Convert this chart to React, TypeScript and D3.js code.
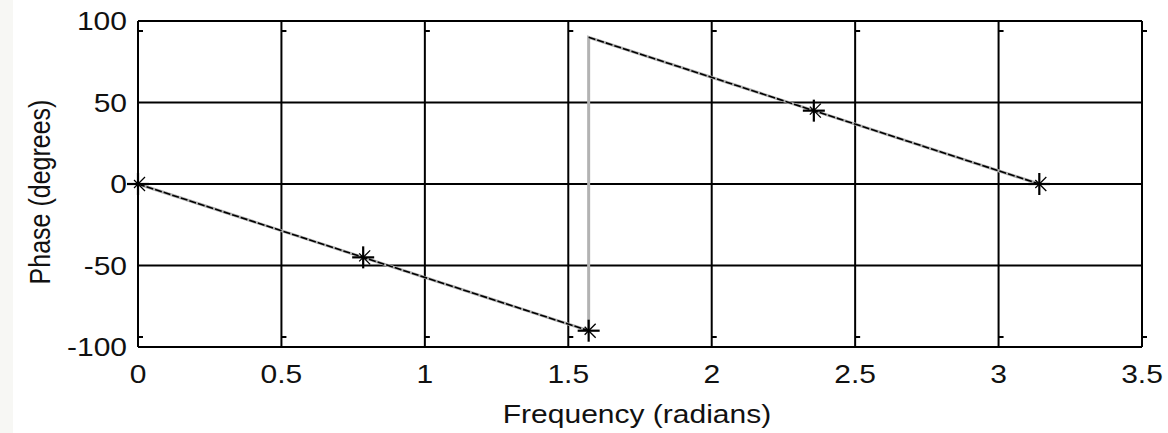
import React from 'react';
import * as d3 from 'd3';

// phase response samples (frequency in radians, phase in degrees)
const freq = [0, 0.785, 1.571, 2.356, 3.142];
const phase = [0, -45, -90, 45, 0];
// the wrapped curve jumps from -90 to +90 at pi/2
const curveFreq = [0, 0.785, 1.571, 1.571, 2.356, 3.142];
const curvePhase = [0, -45, -90, 90, 45, 0];
const xTicks = [0, 0.5, 1, 1.5, 2, 2.5, 3, 3.5];
const yTicks = [-100, -50, 0, 50, 100];

const W = 1168;
const H = 433;
const margin = { top: 21, right: 26, bottom: 86, left: 138 };
const FONT = "'Liberation Sans', Arial, sans-serif";
const SX = 1.2; // source image is stretched horizontally

const App = () => {
  const x = d3.scaleLinear().domain([0, 3.5]).range([margin.left, W - margin.right]);
  const y = d3.scaleLinear().domain([-100, 100]).range([H - margin.bottom, margin.top]);
  const x0 = x.range()[0], x1 = x.range()[1];
  const y0 = y.range()[0], y1 = y.range()[1];

  const line = d3.line<number>().x((_, i) => x(curveFreq[i])).y(d => y(d));
  const grayPath = line(curvePhase) || '';
  // black overlay: the two sloped pieces, without the vertical jump
  const leftPath = line(curvePhase.slice(0, 3)) || '';
  const right = d3.line<number>().x((_, i) => x(curveFreq[i + 3])).y(d => y(d));
  const rightPath = right(curvePhase.slice(3)) || '';

  const star = (cx: number, cy: number, k: number) => (
    <g key={k} stroke="#000" strokeWidth={2.2}>
      <line x1={cx - 11} y1={cy} x2={cx + 11} y2={cy} />
      <line x1={cx} y1={cy - 11} x2={cx} y2={cy + 11} />
      <line x1={cx - 4} y1={cy - 4} x2={cx + 7} y2={cy + 7} strokeWidth={1.3} />
      <line x1={cx - 4} y1={cy + 4} x2={cx + 7} y2={cy - 7} strokeWidth={1.3} />
    </g>
  );

  return (
    <svg width={W} height={H} style={{ position: 'absolute', left: 0, top: 0, background: '#fff' }}>
      <rect x={0} y={0} width={13} height={H} fill="#f7f7f4" />

      {/* grid */}
      <g stroke="#000" strokeWidth={2}>
        {xTicks.map(t => (
          <line key={'gx' + t} x1={x(t)} x2={x(t)} y1={y1} y2={y0} />
        ))}
        {yTicks.map(t => (
          <line key={'gy' + t} x1={x0} x2={x1} y1={y(t)} y2={y(t)} />
        ))}
      </g>

      {/* small tick stubs next to the vertical grid lines */}
      <g stroke="#000" strokeWidth={2}>
        {xTicks.map(t => (
          <g key={'tx' + t}>
            <line x1={x(t)} x2={x(t) + 5} y1={y1 + 10} y2={y1 + 10} />
            <line x1={x(t)} x2={x(t) + 5} y1={y0 - 10} y2={y0 - 10} />
          </g>
        ))}
      </g>

      {/* curve */}
      <path d={grayPath} fill="none" stroke="#b3b3b3" strokeWidth={3} />
      <path d={leftPath} fill="none" stroke="#000" strokeWidth={1.6} strokeDasharray="7 2" />
      <path d={rightPath} fill="none" stroke="#000" strokeWidth={1.6} strokeDasharray="7 2" />
      {freq.map((f, i) => star(x(f), y(phase[i]), i))}

      {/* tick labels */}
      <g fontFamily={FONT} fontSize={25} fill="#111">
        {yTicks.map(t => (
          <text key={'ly' + t} transform={`translate(${x0 - 11},${y(t)}) scale(${SX},1)`} textAnchor="end" dy="0.36em">
            {t}
          </text>
        ))}
        {xTicks.map(t => (
          <text key={'lx' + t} transform={`translate(${x(t)},${y0 + 36}) scale(${SX},1)`} textAnchor="middle">
            {t}
          </text>
        ))}
        <text transform={`translate(${(x0 + x1) / 2 - 3},423) scale(${SX},1)`} textAnchor="middle">
          Frequency (radians)
        </text>
        <text transform={`translate(50,${(y0 + y1) / 2 + 8}) scale(${SX},1) rotate(-90)`} textAnchor="middle">
          Phase (degrees)
        </text>
      </g>
    </svg>
  );
};

export default App;
